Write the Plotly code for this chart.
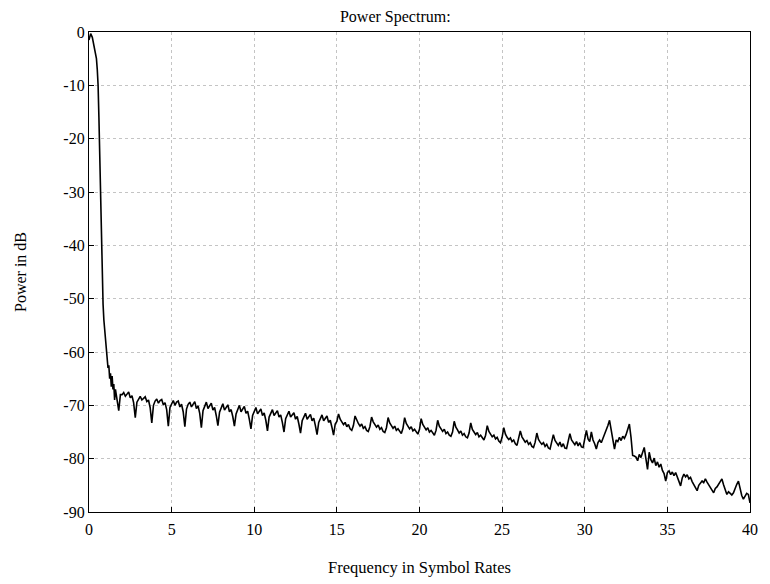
import numpy as np
import plotly.graph_objects as go

# main lobe
lobe_f = [0.0, 0.1, 0.2, 0.3, 0.4, 0.45, 0.5, 0.55, 0.6, 0.65, 0.7, 0.75, 0.8, 0.85,
          0.9, 1.0, 1.05, 1.1, 1.15, 1.2, 1.25, 1.3, 1.35, 1.4, 1.45, 1.5, 1.55, 1.6,
          1.7, 1.8, 1.9]
lobe_db = [-1.5, -0.3, -1.0, -2.5, -4.0, -5.0, -7.0, -10.0, -16.0, -23.0, -30.0, -39.0,
           -47.0, -51.0, -54.0, -57.5, -60.0, -61.0, -63.0, -62.5, -65.0, -64.0, -66.5,
           -64.5, -67.0, -66.0, -69.0, -67.0, -69.5, -71.0, -68.0]

# spectral floor, 2.0 .. 40.0 in steps of 0.1 symbol rates
floor_db = [
    -68.0, -67.6, -68.3, -67.9, -67.5, -68.6, -68.2, -69.5, -72.3, -69.4,
    -68.8, -68.3, -69.0, -68.6, -68.4, -69.3, -69.0, -70.4, -73.3, -70.0,
    -69.2, -68.8, -69.6, -69.1, -68.9, -69.9, -69.5, -70.8, -73.9, -70.4,
    -69.6, -69.1, -70.0, -69.4, -69.2, -70.3, -69.8, -71.2, -74.0, -70.7,
    -69.8, -69.4, -70.3, -69.7, -69.3, -70.6, -70.1, -71.5, -74.2, -71.0,
    -70.1, -69.4, -70.6, -70.0, -69.6, -70.9, -70.4, -71.9, -73.8, -71.3,
    -70.5, -69.7, -70.9, -70.3, -69.9, -71.2, -70.8, -72.1, -73.9, -71.6,
    -70.8, -70.0, -71.2, -70.7, -70.2, -71.5, -71.1, -72.6, -74.4, -71.9,
    -71.0, -70.4, -71.6, -71.0, -70.7, -71.9, -71.4, -72.8, -74.8, -72.2,
    -71.3, -70.8, -71.9, -71.4, -71.0, -72.2, -71.8, -73.2, -75.0, -72.5,
    -71.7, -71.1, -72.2, -71.7, -71.4, -72.6, -72.1, -73.5, -75.2, -72.9,
    -72.0, -71.5, -72.6, -72.0, -71.7, -72.9, -72.4, -73.8, -75.5, -73.2,
    -72.4, -71.8, -72.9, -72.3, -72.0, -73.2, -72.8, -74.1, -75.6, -73.5,
    -73.0, -71.6, -72.6, -73.1, -73.6, -73.2, -74.0, -73.6, -74.4, -74.7,
    -73.8, -72.0, -72.9, -73.4, -73.9, -73.5, -74.3, -74.0, -74.7, -74.9,
    -74.0, -72.2, -73.1, -73.6, -74.1, -73.7, -74.5, -74.2, -74.9, -75.1,
    -74.2, -72.3, -73.3, -73.8, -74.3, -73.9, -74.7, -74.4, -75.0, -75.3,
    -74.3, -72.3, -73.4, -73.9, -74.4, -74.0, -74.8, -74.5, -75.1, -75.4,
    -74.5, -72.5, -73.6, -74.1, -74.6, -74.2, -75.0, -74.7, -75.3, -75.6,
    -74.7, -72.8, -73.9, -74.4, -74.9, -74.5, -75.3, -75.0, -75.6, -75.8,
    -75.0, -73.0, -74.1, -74.6, -75.2, -74.8, -75.6, -75.3, -75.9, -76.1,
    -75.2, -73.3, -74.5, -75.0, -75.5, -75.1, -75.9, -75.6, -76.2, -76.5,
    -75.6, -73.8, -74.9, -75.4, -75.9, -75.6, -76.3, -76.0, -76.7, -77.0,
    -76.0, -74.2, -75.4, -76.0, -76.4, -76.1, -76.8, -76.5, -77.2, -77.5,
    -76.4, -74.8, -75.9, -76.5, -76.9, -76.6, -77.3, -77.0, -77.7, -77.9,
    -76.9, -75.2, -76.4, -76.9, -77.3, -77.0, -77.7, -77.3, -78.0, -78.2,
    -77.0, -75.5, -76.6, -77.1, -77.5, -76.9, -77.8, -77.2, -78.0, -78.1,
    -76.8, -75.3, -76.5, -77.0, -77.4, -76.8, -77.6, -77.0, -77.8, -77.9,
    -76.0, -74.7, -76.3, -76.8, -75.0, -76.5, -77.2, -78.2, -77.0, -76.5,
    -77.0, -76.2, -75.5, -74.8, -73.8, -72.8, -74.6, -76.0, -78.2, -76.5,
    -76.8, -76.0, -76.6, -75.8, -76.2, -75.5, -74.5, -73.5, -76.0, -79.4,
    -79.5, -79.7, -80.4, -79.2, -79.8, -78.6, -77.9, -80.0, -82.0, -78.8,
    -80.2, -80.8, -79.9, -81.3, -80.6, -81.6, -81.0, -82.2, -82.8, -84.2,
    -82.6, -82.3, -83.0, -82.5, -83.2, -82.6, -83.4, -84.0, -85.1, -83.6,
    -82.9, -83.4, -83.0, -83.8, -83.5, -84.3, -84.9, -85.5, -86.0, -85.0,
    -84.6, -84.2, -84.5, -83.8, -84.4, -85.0, -85.4, -85.9, -86.4, -85.6,
    -85.3, -84.8, -84.3, -83.8, -84.9, -85.8, -86.7, -86.2, -86.5, -86.8,
    -86.4, -85.5, -84.8, -84.2, -85.6, -86.9, -87.6, -87.0, -86.5, -86.7,
    -88.3,
]
floor_f = np.linspace(2.0, 40.0, len(floor_db))

x_ticks = [0, 5, 10, 15, 20, 25, 30, 35, 40]
y_ticks = [0, -10, -20, -30, -40, -50, -60, -70, -80, -90]
y_labels = ["0", "-10", "-20", "-30", "-40", "-50", "-60", "-70", "-80", "-90"]

freq = list(lobe_f) + list(floor_f)
power = lobe_db + floor_db

serif = "Liberation Serif"

fig = go.Figure()
fig.add_trace(go.Scatter(x=freq, y=power, mode="lines",
                         line=dict(color="black", width=1.6), showlegend=False))

axis_style = dict(
    showline=True, mirror=True, linecolor="black", linewidth=1.3,
    ticks="inside", ticklen=5, tickcolor="black",
    showgrid=True, gridcolor="#c4c4c4", griddash="dot", gridwidth=1,
    zeroline=False, tickfont=dict(family=serif, size=16, color="black"),
)

fig.update_xaxes(range=[0, 40], tickvals=x_ticks, ticklabelstandoff=3,
                 title=dict(text="Frequency in Symbol Rates", standoff=24,
                            font=dict(family=serif, size=16.5, color="black")),
                 **axis_style)
fig.update_yaxes(range=[-90, 0], tickvals=y_ticks, ticktext=y_labels,
                 title=dict(text="Power in dB", standoff=32,
                            font=dict(family=serif, size=16, color="black")),
                 **axis_style)

fig.update_layout(
    width=770, height=584,
    margin=dict(l=77, r=28, t=24, b=80),
    paper_bgcolor="white", plot_bgcolor="white",
    title=dict(text="Power Spectrum:", x=0.503, xanchor="center", y=0.996,
               yanchor="top", pad=dict(t=0),
               font=dict(family=serif, size=16, color="black")),
)

fig.write_html("out.html")
